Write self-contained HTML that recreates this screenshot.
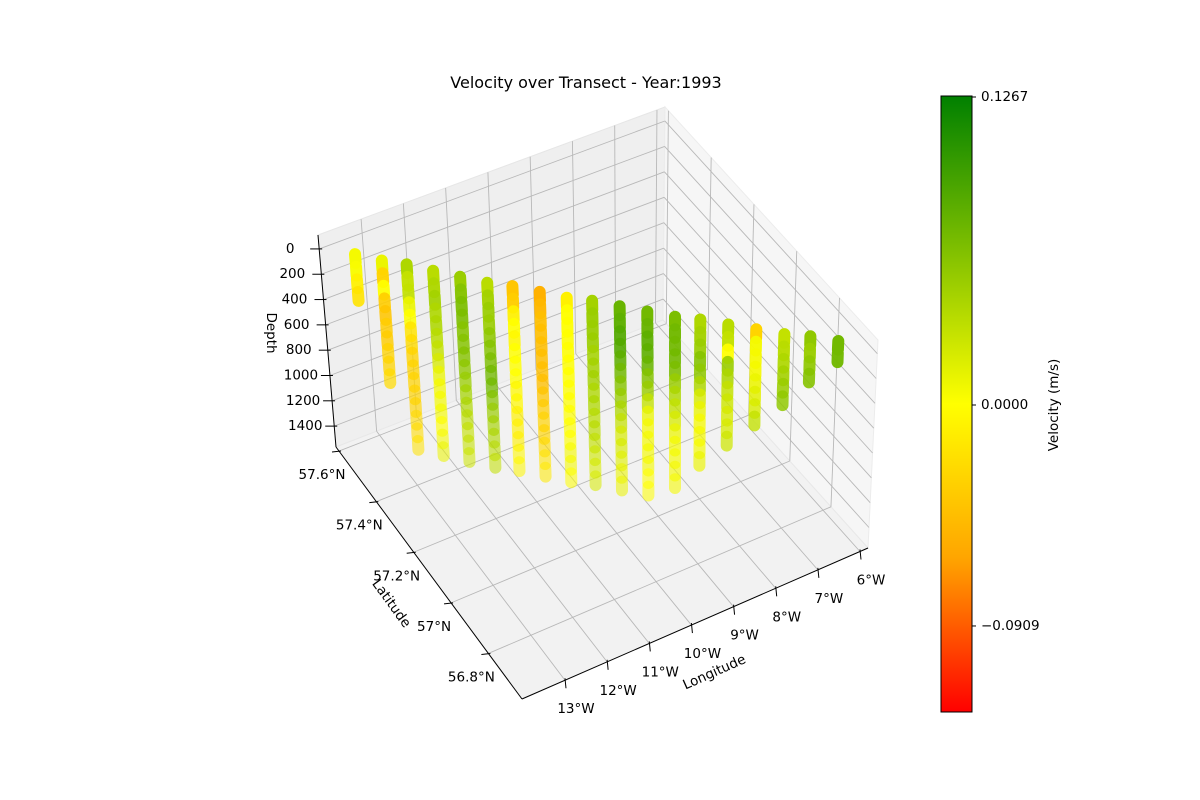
<!DOCTYPE html>
<html><head><meta charset="utf-8"><style>
html,body{margin:0;padding:0;background:#fff;}
svg{display:block;font-family:"DejaVu Sans","Liberation Sans",sans-serif;}
</style></head>
<body>
<svg id="chart" width="1200" height="800" viewBox="0 0 1200 800" xmlns="http://www.w3.org/2000/svg">
<defs>
<linearGradient id="cbgrad" x1="0" y1="1" x2="0" y2="0">
<stop offset="0" stop-color="rgb(255,0,0)"/>
<stop offset="0.25" stop-color="rgb(255,165,0)"/>
<stop offset="0.5" stop-color="rgb(255,255,0)"/>
<stop offset="1" stop-color="rgb(0,128,0)"/>
</linearGradient>
</defs>
<text x="586" y="88" text-anchor="middle" font-size="16">Velocity over Transect - Year:1993</text>
<g id="panes"></g>
<g id="grid"></g>
<g id="axes"></g>
<g id="points"></g>
<text transform="translate(267,333) rotate(90)" text-anchor="middle" font-size="13.5">Depth</text>
<text transform="translate(388,606) rotate(54)" text-anchor="middle" font-size="13.5">Latitude</text>
<text transform="translate(716,676) rotate(-24)" text-anchor="middle" font-size="13.5">Longitude</text>
<g>
<rect x="941" y="96" width="31" height="616" fill="url(#cbgrad)" stroke="#000" stroke-width="1"/>
<g id="cbticks"></g>
<text transform="translate(1058,405) rotate(-90)" text-anchor="middle" font-size="13.5">Velocity (m/s)</text>
</g>
</svg>
<script>
// ---- data ----
const lons = [-13.47,-13.07,-12.67,-12.28,-11.88,-11.48,-11.08,-10.68,-10.29,-9.89,-9.49,-9.09,-8.69,-8.30,-7.90,-7.50,-7.10,-6.70,-6.31];
const lats = [57.55,57.50,57.46,57.41,57.36,57.31,57.27,57.22,57.17,57.13,57.08,57.03,56.98,56.94,56.89,56.84,56.79,56.75,56.70];
const depths = [10,110,210,310,410,510,610,710,810,910,1010,1110,1210,1310,1410];
const vel1 = [0.005,0.003,-0.01,-0.02];
const vel2 = [0.01,-0.03,0.0,-0.035,-0.04,-0.035,-0.035,-0.03,-0.03,-0.025];
const vel3 = [0.04,0.03,0.03,0.01,0.0,-0.02,-0.025,-0.03,-0.03,-0.03,-0.03,-0.03,-0.025,-0.025,-0.02];
const vel4 = [0.035,0.04,0.045,0.04,0.04,0.035,0.03,0.02,0.01,0.005,0.005,0.005,0.0,0.005,0.01];
const vel5 = [0.05,0.06,0.065,0.065,0.06,0.06,0.06,0.055,0.05,0.045,0.04,0.035,0.03,0.03,0.025];
const vel6 = [0.035,0.045,0.05,0.05,0.055,0.06,0.065,0.07,0.07,0.06,0.05,0.045,0.04,0.035,0.03];
const vel7 = [-0.04,-0.035,-0.01,0.0,-0.005,0.0,0.0,0.0,-0.005,-0.005,-0.01,-0.01,-0.01,-0.005,-0.005];
const vel8 = [-0.055,-0.05,-0.045,-0.045,-0.045,-0.045,-0.045,-0.045,-0.04,-0.035,-0.03,-0.03,-0.025,-0.02,-0.015];
const vel9 = [-0.01,0.0,0.0,0.0,0.0,0.0,0.0,0.0,0.0,0.0,0.0,0.0,0.005,0.005,0.0];
const vel10 = [0.045,0.05,0.05,0.05,0.045,0.045,0.045,0.04,0.04,0.035,0.035,0.03,0.025,0.02,0.02];
const vel11 = [0.075,0.08,0.085,0.085,0.08,0.07,0.06,0.05,0.04,0.03,0.02,0.02,0.015,0.01,0.01];
const vel12 = [0.07,0.075,0.08,0.08,0.075,0.06,0.05,0.03,0.01,0.005,0.005,0.005,0.005,0.0,0.0];
const vel13 = [0.065,0.07,0.07,0.07,0.065,0.05,0.04,0.03,0.02,0.01,0.005,0.005,0.005,0.005];
const vel14 = [0.04,0.045,0.05,0.06,0.055,0.04,0.02,0.01,0.005,0.005,0.005,0.01];
const vel15 = [0.035,0.03,0.0,0.05,0.04,0.03,0.025,0.02,0.02,0.025];
const vel16 = [-0.03,0.005,0.005,0.005,0.01,0.015,0.02,0.03];
const vel17 = [0.03,0.035,0.04,0.045,0.05,0.055];
const vel18 = [0.055,0.05,0.055,0.06];
const vel19 = [0.07,0.07];
const velocities = [vel1,vel2,vel3,vel4,vel5,vel6,vel7,vel8,vel9,vel10,vel11,vel12,vel13,vel14,vel15,vel16,vel17,vel18,vel19];
const depthTicks = [0,200,400,600,800,1000,1200,1400];
const lonTicks = [-13,-12,-11,-10,-9,-8,-7,-6];
const latTicks = [56.8,57.0,57.2,57.4,57.6];
const latTickLabels = ["56.8°N","57°N","57.2°N","57.4°N","57.6°N"];
const cbTicks = [0.1267,0.0,-0.0909];
const cbTickLabels = ["0.1267","0.0000","\u22120.0909"];
const VMAX = 0.1267;

// ---- projection ----
const LON0=-14.02, LON1=-5.81, LAT0=56.62, LAT1=57.616, DMIN=-110, DMAX=1565;
const F=[522,699], R=[868,548], B=[663,320], L=[336,447];
const TF=[512,492], TR=[878,340], TB=[665,107], TL=[318,235];
function bil(c00,c10,c11,c01,u,v,i){return c00[i]*(1-u)*(1-v)+c10[i]*u*(1-v)+c11[i]*u*v+c01[i]*(1-u)*v;}
function proj(lon,lat,d){
  const u=(lon-LON0)/(LON1-LON0), v=(lat-LAT0)/(LAT1-LAT0), w=(d-DMIN)/(DMAX-DMIN);
  const fx=bil(F,R,B,L,u,v,0), fy=bil(F,R,B,L,u,v,1);
  const tx=bil(TF,TR,TB,TL,u,v,0), ty=bil(TF,TR,TB,TL,u,v,1);
  return [tx+(fx-tx)*w, ty+(fy-ty)*w];
}
function cmap(val){
  let t=(val+VMAX)/(2*VMAX); t=Math.max(0,Math.min(1,t));
  const st=[[0,255,0,0],[0.25,255,165,0],[0.5,255,255,0],[1,0,128,0]];
  for(let i=0;i<st.length-1;i++){
    if(t<=st[i+1][0]){const f=(t-st[i][0])/(st[i+1][0]-st[i][0]);
      return `rgb(${Math.round(st[i][1]+(st[i+1][1]-st[i][1])*f)},${Math.round(st[i][2]+(st[i+1][2]-st[i][2])*f)},${Math.round(st[i][3]+(st[i+1][3]-st[i][3])*f)})`;}
  }
  return 'rgb(0,128,0)';
}
const NS='http://www.w3.org/2000/svg';
function mk(tag,attrs,parent){const e=document.createElementNS(NS,tag);for(const k in attrs)e.setAttribute(k,attrs[k]);parent.appendChild(e);return e;}
function pts(a){return a.map(p=>p[0].toFixed(1)+','+p[1].toFixed(1)).join(' ');}

const panes=document.getElementById('panes');
let pb=mk('polygon',{points:pts([TL,TB,B,L]),fill:'#efefef',stroke:'#e6e6e6','stroke-width':1},panes);


let pr=mk('polygon',{points:pts([TB,TR,R,B]),fill:'#f6f6f6',stroke:'#ececec','stroke-width':1},panes);


let pf=mk('polygon',{points:pts([L,B,R,F]),fill:'#f2f2f2',stroke:'#e8e8e8','stroke-width':1},panes);



const grid=document.getElementById('grid');
function gl(a,b,name){const l=mk('line',{x1:a[0],y1:a[1],x2:b[0],y2:b[1],stroke:'#b8b8b8','stroke-width':0.9},grid);
  
  }
lonTicks.forEach(lo=>{gl(proj(lo,LAT1,DMIN),proj(lo,LAT1,DMAX),'grid-lon-back');gl(proj(lo,LAT1,DMAX),proj(lo,LAT0,DMAX),'grid-lon-floor');});
latTicks.forEach(la=>{gl(proj(LON1,la,DMIN),proj(LON1,la,DMAX),'grid-lat-right');gl(proj(LON0,la,DMAX),proj(LON1,la,DMAX),'grid-lat-floor');});
depthTicks.forEach(d=>{gl(proj(LON0,LAT1,d),proj(LON1,LAT1,d),'grid-depth-back');gl(proj(LON1,LAT1,d),proj(LON1,LAT0,d),'grid-depth-right');});

const axes=document.getElementById('axes');
function al(a,b,name){const l=mk('line',{x1:a[0],y1:a[1],x2:b[0],y2:b[1],stroke:'#000','stroke-width':1},axes);
  
  }
function tx(x,y,s,name,anchor){const t=mk('text',{x:x,y:y,'text-anchor':anchor||'middle','font-size':13.5,'dominant-baseline':'central'},axes);t.textContent=s;
  
  }
al(TL,L,'depth-axis-line');
al(L,F,'latitude-axis-line');
al(F,R,'longitude-axis-line');
depthTicks.forEach(d=>{const p=proj(LON0,LAT1,d);al([p[0]-9,p[1]],[p[0]+3,p[1]],'depth-tick');tx(p[0]-29,p[1],String(d),'depth-tick-label');});
latTicks.forEach((la,i)=>{const p=proj(LON0,la,DMAX);al([p[0]-7,p[1]+1],[p[0]+2,p[1]],'latitude-tick');tx(p[0]-17,p[1]+24,latTickLabels[i],'latitude-tick-label');});
lonTicks.forEach(lo=>{const p=proj(lo,LAT0,DMAX);al([p[0],p[1]-2],[p[0]+1,p[1]+8],'longitude-tick');tx(p[0]+11,p[1]+29,Math.abs(lo)+'°W','longitude-tick-label');});

const pg=document.getElementById('points');
velocities.forEach((col,ci)=>{
  col.forEach((val,di)=>{
    const d=depths[di];
    const a=proj(lons[ci],lats[ci],d-35);
    const b=proj(lons[ci],lats[ci],d+35);
    const op=1-0.45*(d/1450);
    const c=mk('line',{x1:a[0].toFixed(1),y1:a[1].toFixed(1),x2:b[0].toFixed(1),y2:b[1].toFixed(1),stroke:cmap(val),'stroke-width':12,'stroke-linecap':'round','stroke-opacity':op.toFixed(2)},pg);
    
    
  });
});

const cbt=document.getElementById('cbticks');
cbTicks.forEach((v,i)=>{
  const y=405-(v/VMAX)*308;
  const l=mk('line',{x1:972,y1:y,x2:976,y2:y,stroke:'#000','stroke-width':1},cbt);
  
  
  const t=mk('text',{x:981,y:y,'font-size':13.5,'dominant-baseline':'central'},cbt);
  t.textContent=cbTickLabels[i];
  
  
});
</script>
</body></html>
